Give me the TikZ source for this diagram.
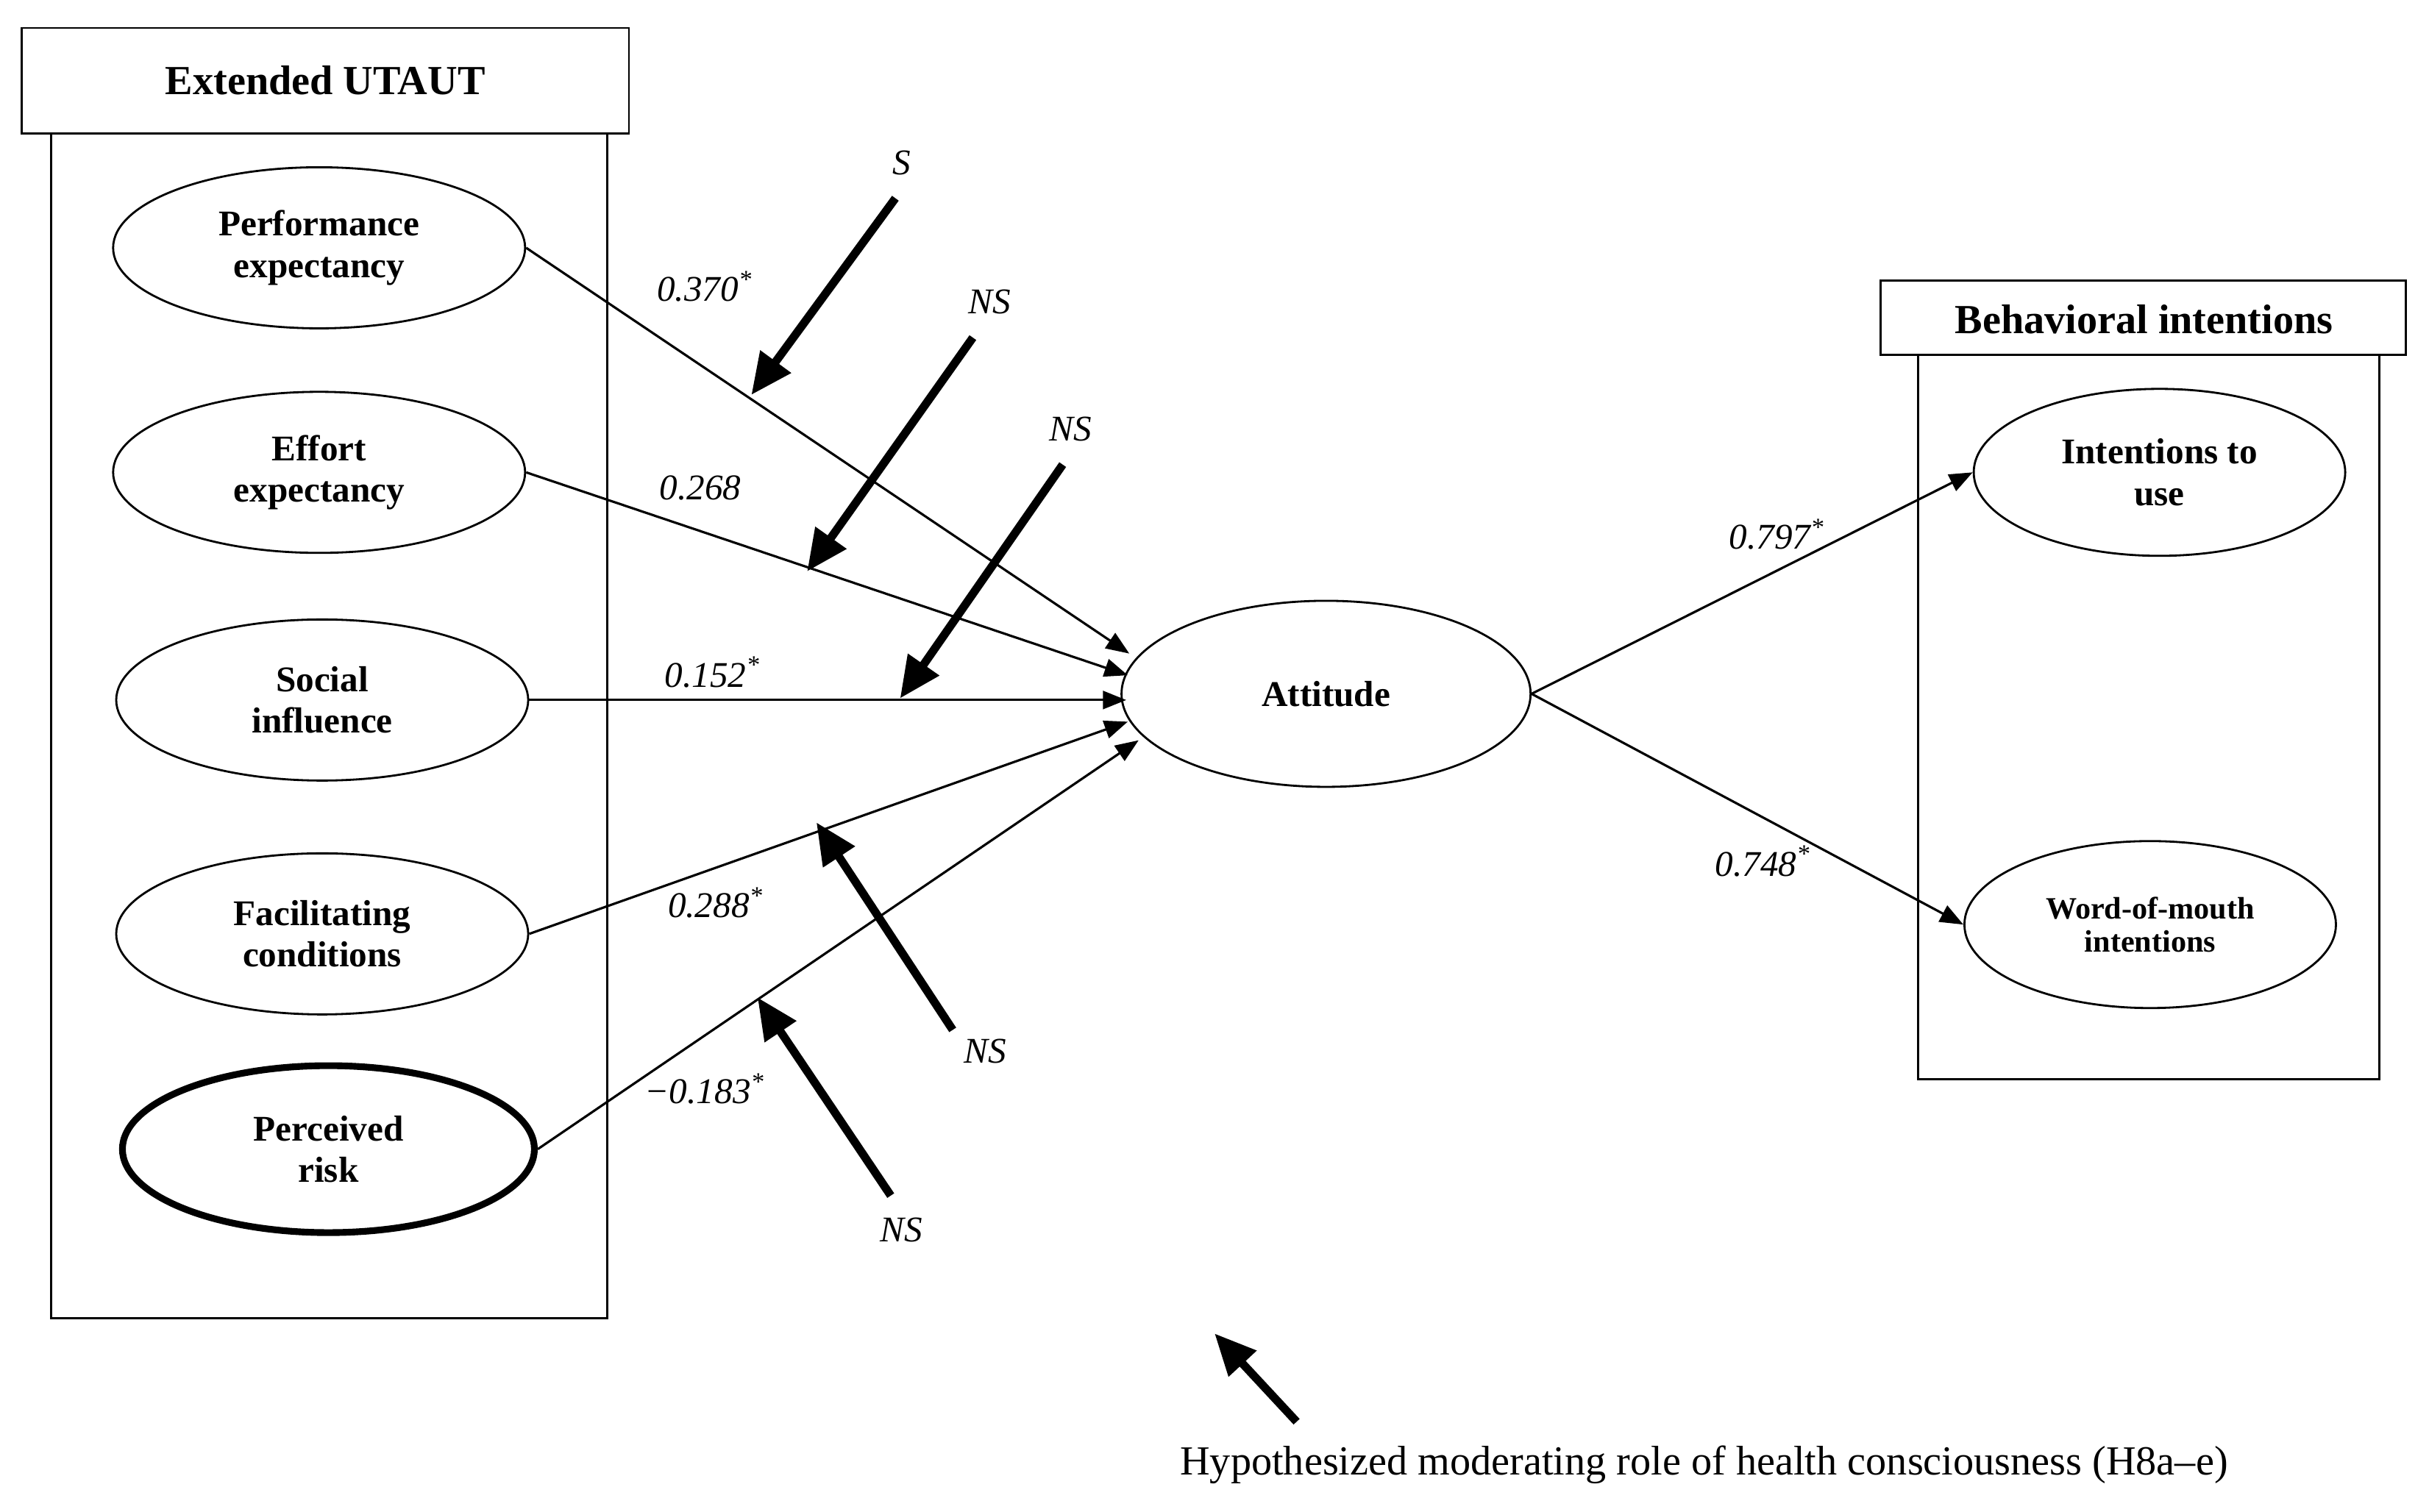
\documentclass[tikz,border=0pt]{standalone}
\usepackage{fontspec}
\setmainfont{Liberation Serif}
\usetikzlibrary{shapes.geometric,arrows.meta}

\tikzset{
	construct/.style={ellipse, draw=black, line width=0.8pt, inner sep=0pt, minimum width=5.6cm, minimum height=2.19cm, align=center, font=\fontsize{14}{16}\selectfont\bfseries},
	path/.style={line width=0.9pt, -{Triangle[length=9pt,width=7pt]}},
	moderator/.style={line width=3.2pt, -{Triangle[length=16pt,width=14pt]}},
	coef/.style={font=\fontsize{14}{16}\selectfont\itshape},
	title/.style={font=\fontsize{16}{18}\selectfont\bfseries}
}

\begin{document}
\begin{tikzpicture}[x=0.02106cm, y=-0.02106cm]

	\useasboundingbox (0,0) rectangle (1568,976);

	% left block
	\draw[line width=0.8pt] (33,86) rectangle (392,851);
	\draw[line width=0.8pt] (14,18) rectangle (406,86);
	\node [title] (utaut) at (210,52) {Extended UTAUT};

	\node [construct] (pe) at (206,160) {Performance\\expectancy};
	\node [construct] (ee) at (206,305) {Effort\\expectancy};
	\node [construct] (si) at (208,452) {Social\\influence};
	\node [construct] (fc) at (208,603) {Facilitating\\conditions};
	\node [construct, line width=2.6pt, minimum height=2.27cm] (pr) at (212,742) {Perceived\\risk};

	\node [construct, minimum width=5.56cm, minimum height=2.53cm] (att) at (856,448) {Attitude};

	% right block
	\draw[line width=0.8pt] (1238,229) rectangle (1536,697);
	\draw[line width=0.8pt] (1214,181) rectangle (1553,229);
	\node [title] (bi) at (1384,206) {Behavioral intentions};

	\node [construct, minimum width=5.05cm, minimum height=2.27cm] (iu) at (1394,305) {Intentions to\\use};
	\node [construct, minimum width=5.05cm, minimum height=2.27cm, font=\fontsize{12}{13}\selectfont\bfseries] (wom) at (1388,597) {Word-of-mouth\\intentions};

	% structural paths
	\coordinate (a1) at (729,422);
	\coordinate (a2) at (728,436);
	\coordinate (a3) at (727,452);
	\coordinate (a4) at (728,466);
	\coordinate (a5) at (735,478);
	\draw[path] (pe.east) -- (a1);
	\draw[path] (ee.east) -- (a2);
	\draw[path] (si.east) -- (a3);
	\draw[path] (fc.east) -- (a4);
	\draw[path] (pr.east) -- (a5);
	\draw[path] (att.east) -- (iu.west);
	\draw[path] (att.east) -- (wom.west);

	\node [coef] (c1) at (455,185) {0.370\textsuperscript{*}};
	\node [coef] (c2) at (452,315) {0.268};
	\node [coef] (c3) at (460,434) {0.152\textsuperscript{*}};
	\node [coef] (c4) at (462,583) {0.288\textsuperscript{*}};
	\node [coef] (c5) at (455,703) {\textminus0.183\textsuperscript{*}};
	\node [coef] (c6) at (1147,345) {0.797\textsuperscript{*}};
	\node [coef] (c7) at (1138,556) {0.748\textsuperscript{*}};

	% moderating effects
	\node [coef] (m1) at (582,105) {S};
	\node [coef] (m2) at (639,195) {NS};
	\node [coef] (m3) at (691,277) {NS};
	\node [coef] (m4) at (636,679) {NS};
	\node [coef] (m5) at (582,794) {NS};
	\coordinate (s1) at (578,128); \coordinate (t1) at (485,255);
	\coordinate (s2) at (628,218); \coordinate (t2) at (521,369);
	\coordinate (s3) at (686,300); \coordinate (t3) at (581,451);
	\coordinate (s4) at (615,665); \coordinate (t4) at (527,531);
	\coordinate (s5) at (575,772); \coordinate (t5) at (489,644);
	\foreach \i in {1,...,5}
		\draw[moderator] (s\i) -- (t\i);

	% legend
	\coordinate (ls) at (837,918);
	\coordinate (lt) at (784,861);
	\draw[moderator] (ls) -- (lt);
	\node [font=\fontsize{16}{18}\selectfont] (cap) at (1100,946) {Hypothesized moderating role of health consciousness (H8a--e)};

\end{tikzpicture}
\end{document}
